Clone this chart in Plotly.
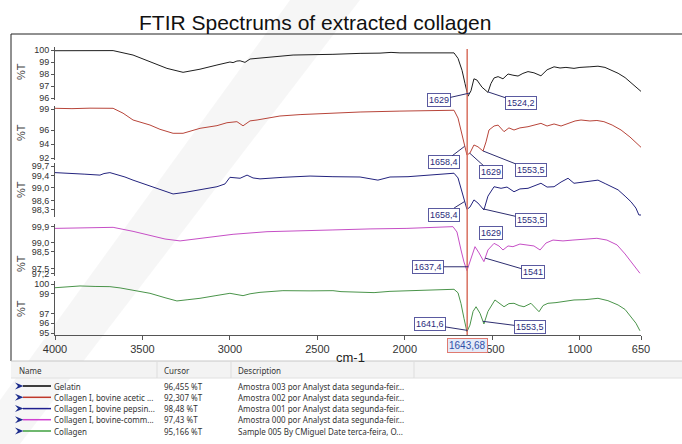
import numpy as np
import plotly.graph_objects as go

W, H = 682, 444

TITLE = "FTIR Spectrums of extracted collagen"
X_TICKS = [4000, 3500, 3000, 2500, 2000, 1500, 1000, 650]
X_TICK_LABELS = ["4000", "3500", "3000", "2500", "2000", "1500", "1000", "650"]
X_LABEL = "cm-1"
Y_LABEL = "%T"
CURSOR_WN = 1643.68
CURSOR_TEXT = "1643,68"

SERIES_NAMES = ["Gelatin", "Collagen I, bovine acetic ...", "Collagen I, bovine pepsin...",
                "Collagen I, bovine-comm...", "Collagen"]
CURSOR_VALUES = ["96,455 %T", "92,307 %T", "98,48 %T", "97,43 %T", "95,166 %T"]
DESCRIPTIONS = ["Amostra 003 por Analyst data segunda-feir...",
                "Amostra 002 por Analyst data segunda-feir...",
                "Amostra 001 por Analyst data segunda-feir...",
                "Amostra 000 por Analyst data segunda-feir...",
                "Sample 005 By CMiguel Date terca-feira, O..."]
TABLE_HEADERS = ["Name", "Cursor", "Description"]

# ---- spectra (wavenumber cm-1, %T) ----
gel_wn = [4000, 3903, 3800, 3720, 3668, 3554, 3457, 3360, 3268, 3171, 3074, 3000, 2982, 2960, 2942,
          2914, 2885, 2788, 2639, 2411, 2365, 2256, 2142, 2079, 2028, 1913, 1799, 1742, 1719, 1696,
          1673, 1656, 1639, 1622, 1605, 1588, 1559, 1525, 1508, 1490, 1467, 1439, 1410, 1382, 1353,
          1325, 1296, 1262, 1222, 1187, 1147, 1113, 1079, 1033, 999, 942, 896, 856, 781, 741, 707, 650]
gel_t = [99.94, 99.96, 99.92, 99.97, 99.95, 99.58, 99.03, 98.47, 98.14, 98.4, 98.75, 99.0, 98.95, 99.08, 99.1,
         98.97, 99.25, 99.4, 99.58, 99.64, 99.68, 99.72, 99.74, 99.8, 99.76, 99.78, 99.75, 99.78, 99.76, 99.3,
         98.3, 97.2, 96.15, 96.6, 97.6, 97.5, 96.9, 96.47, 97.2, 97.67, 97.78, 97.6, 98.0, 97.9, 97.83,
         98.05, 98.2, 98.1, 97.85, 98.35, 98.6, 98.5, 98.55, 98.47, 98.55, 98.6, 98.65, 98.55, 98.06, 97.7, 97.25, 96.55]

acet_wn = [4000, 3903, 3800, 3720, 3668, 3611, 3554, 3457, 3400, 3325, 3268, 3171, 3074, 3017, 2960,
           2925, 2885, 2845, 2714, 2599, 2411, 2256, 2028, 1856, 1742, 1719, 1696, 1673, 1656, 1645,
           1628, 1605, 1582, 1553, 1536, 1519, 1490, 1467, 1433, 1405, 1376, 1342, 1296, 1262, 1222,
           1187, 1147, 1107, 1067, 1027, 993, 942, 902, 862, 815, 764, 713, 650]
acet_t = [99.1, 99.05, 99.12, 99.08, 99.1, 98.4, 97.43, 96.71, 96.1, 95.53, 95.53, 96.24, 96.62, 97.04, 97.19,
          96.6, 97.3, 97.43, 98.0, 98.2, 98.43, 98.57, 98.7, 98.79, 98.86, 98.82, 97.7, 95.3, 93.4, 92.43,
          92.7, 93.86, 93.6, 93.0, 94.3, 96.0, 96.57, 96.7, 95.76, 96.3, 96.0, 96.3, 96.47, 96.7, 96.95,
          96.57, 96.86, 96.57, 96.95, 97.29, 97.43, 97.29, 97.36, 97.19, 96.71, 96.0, 95.0, 93.53]

peps_wn = [4000, 3903, 3829, 3743, 3720, 3686, 3668, 3646, 3600, 3554, 3457, 3371, 3325, 3257, 3171,
           3074, 3028, 3000, 2942, 2902, 2868, 2828, 2697, 2542, 2411, 2256, 2154, 2085, 1982, 1856,
           1719, 1696, 1673, 1656, 1645, 1628, 1605, 1582, 1548, 1525, 1490, 1450, 1416, 1376, 1342,
           1296, 1262, 1222, 1187, 1147, 1107, 1067, 1033, 987, 942, 896, 851, 816, 781, 741, 707,
           679, 662, 650]
peps_t = [99.49, 99.47, 99.44, 99.41, 99.46, 99.49, 99.46, 99.44, 99.35, 99.25, 99.06, 98.9, 98.81, 98.86, 98.94,
          99.04, 99.13, 99.34, 99.31, 99.41, 99.32, 99.29, 99.34, 99.38, 99.36, 99.35, 99.25, 99.35, 99.36, 99.41,
          99.47, 99.32, 98.87, 98.52, 98.32, 98.39, 98.62, 98.52, 98.3, 98.74, 99.04, 98.99, 99.03, 98.88, 98.97,
          98.99, 99.06, 99.15, 99.03, 99.04, 99.19, 99.31, 99.15, 99.19, 99.22, 99.25, 99.13, 99.03, 98.94, 98.74, 98.56,
          98.36, 98.14, 98.14]

comm_wn = [4000, 3857, 3668, 3554, 3457, 3371, 3285, 3171, 2982, 2788, 2599, 2411, 2199, 1988, 1725,
           1702, 1679, 1662, 1645, 1628, 1599, 1576, 1548, 1525, 1490, 1462, 1439, 1410, 1382, 1342,
           1302, 1262, 1227, 1193, 1153, 1096, 1039, 970, 902, 845, 787, 741, 696, 656]
comm_t = [99.82, 99.85, 99.88, 99.65, 99.44, 99.21, 99.1, 99.25, 99.48, 99.63, 99.7, 99.73, 99.79, 99.82, 99.92,
          99.61, 98.58, 97.89, 97.39, 97.89, 98.77, 98.41, 97.91, 98.58, 98.96, 98.81, 98.58, 98.81, 98.77, 98.92,
          98.87, 98.81, 98.58, 98.98, 99.15, 99.1, 99.15, 99.21, 99.25, 99.15, 98.87, 98.35, 97.77, 97.24]

coll_wn = [4000, 3943, 3857, 3771, 3686, 3628, 3554, 3457, 3371, 3303, 3240, 3171, 3085, 3000, 2925,
           2885, 2828, 2697, 2542, 2411, 2365, 2256, 2176, 2085, 1982, 1856, 1719, 1696, 1679, 1662,
           1645, 1628, 1610, 1593, 1570, 1548, 1525, 1485, 1462, 1433, 1405, 1376, 1347, 1319, 1279,
           1256, 1233, 1210, 1182, 1136, 1085, 1033, 970, 896, 839, 781, 741, 707, 679, 656]
coll_t = [99.62, 99.7, 99.8, 99.75, 99.73, 99.6, 99.39, 99.05, 98.6, 98.27, 98.4, 98.54, 98.8, 99.05, 98.81,
          99.0, 99.15, 99.32, 99.3, 99.32, 99.22, 99.2, 99.12, 99.25, 99.32, 99.4, 99.46, 99.1, 98.0, 96.5,
          95.13, 95.8, 97.2, 97.68, 97.0, 95.92, 97.2, 98.37, 98.1, 97.68, 98.0, 98.03, 97.8, 97.68, 98.03,
          97.6, 97.17, 97.8, 98.03, 98.1, 98.2, 98.37, 98.4, 98.54, 98.3, 97.86, 97.4, 96.66, 96.0, 95.23]

# y-axis ticks per panel
gel_ticks = [100, 99, 98, 97, 96]
gel_tick_labels = ["100", "99", "98", "97", "96"]
acet_ticks = [99, 96, 94, 92]
acet_tick_labels = ["99", "96", "94", "92"]
peps_ticks = [99.7, 99.4, 99.0, 98.6, 98.3]
peps_tick_labels = ["99,7", "99,4", "99,0", "98,6", "98,3"]
comm_ticks = [99.9, 99.0, 98.5, 97.5, 97.2]
comm_tick_labels = ["99,9", "99,0", "98,5", "97,5", "97,2"]
coll_ticks = [100, 99, 97, 96, 95]
coll_tick_labels = ["100", "99", "97", "96", "95"]

# labelled peaks per panel
gel_peaks = [1629, 1524.2]
acet_peaks = [1658.4, 1629, 1553.5]
peps_peaks = [1658.4, 1629, 1553.5]
comm_peaks = [1637.4, 1541]
coll_peaks = [1641.6, 1553.5]

# ---- styling ----
COLORS = ["#1e1e1e", "#b8453a", "#23237e", "#c64fc6", "#4a944a"]
LEGEND_COLORS = ["#000000", "#c0392b", "#1f1f8f", "#d040d0", "#3fa03f"]
PANEL_PX = [(47, 100), (106, 160), (163, 217), (224, 276), (281, 335)]
PANEL_RANGE = [(95.833, 100.25), (91.714, 99.429), (98.076, 99.796), (97.084, 100.072), (94.796, 100.306)]
YLABEL_PX = [72, 133, 190, 264, 309]
PEAK_OFFSETS = [[(-31, 7), (33, 11)],
                [(-21, 16), (21, 19), (48, 19)],
                [(-21, 13), (21, 26), (48, 11)],
                [(-40, 0), (48, 14)],
                [(-38, -6), (47, 6)]]
PLOT_LEFT, PLOT_RIGHT = 55, 641
TICK_FONT = "Liberation Sans, Arial, sans-serif"
TEXT_FONT = "Noto Sans, Segoe UI, DejaVu Sans, sans-serif"


def px(x):
    return x / W


def py(y):
    return 1 - y / H


wns = [gel_wn, acet_wn, peps_wn, comm_wn, coll_wn]
ts = [gel_t, acet_t, peps_t, comm_t, coll_t]
ticks = [gel_ticks, acet_ticks, peps_ticks, comm_ticks, coll_ticks]
tick_labels = [gel_tick_labels, acet_tick_labels, peps_tick_labels, comm_tick_labels, coll_tick_labels]
peaks = [gel_peaks, acet_peaks, peps_peaks, comm_peaks, coll_peaks]

fig = go.Figure()
layout = dict(
    width=W, height=H, margin=dict(l=0, r=0, t=0, b=0, pad=0, autoexpand=False),
    paper_bgcolor="white", plot_bgcolor="rgba(0,0,0,0)", showlegend=False,
    xaxis=dict(domain=[px(PLOT_LEFT), px(PLOT_RIGHT)], range=[4000, 650], anchor="y5",
               tickvals=X_TICKS, ticktext=X_TICK_LABELS, ticks="outside", ticklen=4,
               tickcolor="#555", showline=True, linecolor="#555", linewidth=1,
               showgrid=False, zeroline=False, automargin=False,
               tickfont=dict(family=TICK_FONT, size=11, color="#333")),
)

annotations = []
shapes = []

# faint watermark band (background artefact)
shapes.append(dict(type="path", xref="paper", yref="paper", layer="below",
                   path=f"M {px(290)} {py(0)} L {px(360)} {py(0)} L {px(20)} {py(444)} L {px(0)} {py(444)} L {px(0)} {py(400)} Z",
                   fillcolor="rgba(0,0,0,0.035)", line=dict(width=0)))

for i in range(5):
    yname = "y" if i == 0 else f"y{i+1}"
    lname = "yaxis" if i == 0 else f"yaxis{i+1}"
    top, bot = PANEL_PX[i]
    layout[lname] = dict(domain=[py(bot), py(top)], range=list(PANEL_RANGE[i]), anchor="x",
                         tickvals=ticks[i], ticktext=tick_labels[i], ticks="outside", ticklen=3,
                         tickcolor="#555", showline=True, linecolor="#555", linewidth=1,
                         showgrid=False, zeroline=False, automargin=False,
                         tickfont=dict(family=TICK_FONT, size=9, color="#333"))
    fig.add_trace(go.Scatter(x=wns[i], y=ts[i], mode="lines", xaxis="x", yaxis=yname,
                             line=dict(color=COLORS[i], width=1), hoverinfo="skip"))
    annotations.append(dict(text=Y_LABEL, x=px(21), y=py(YLABEL_PX[i]), xref="paper", yref="paper",
                            xanchor="center", yanchor="middle", showarrow=False, textangle=-90,
                            font=dict(family="Liberation Sans, Arial, sans-serif", size=11, color="#444")))
    wn_asc = np.array(wns[i])[::-1]
    t_asc = np.array(ts[i])[::-1]
    for j, pk in enumerate(peaks[i]):
        yv = float(np.interp(pk, wn_asc, t_asc))
        ax, ay = PEAK_OFFSETS[i][j]
        annotations.append(dict(text=f"{pk:g}".replace(".", ","), x=pk, y=yv, xref="x", yref=yname,
                                ax=ax, ay=ay, showarrow=True, arrowhead=0, arrowwidth=1,
                                arrowcolor="#2e2e70", standoff=0,
                                bordercolor="#5a5aa0", borderwidth=1, borderpad=1, bgcolor="white",
                                font=dict(family=TICK_FONT, size=9, color="#2b2b7b")))

# cursor line and its label
shapes.append(dict(type="line", xref="x", yref="paper", x0=CURSOR_WN, x1=CURSOR_WN,
                   y0=py(335), y1=py(49), line=dict(color="#d8705f", width=1.5)))
annotations.append(dict(text=CURSOR_TEXT, x=CURSOR_WN, y=py(345), xref="x", yref="paper",
                        xanchor="center", yanchor="middle",
                        showarrow=False, bordercolor="#e07a70", borderwidth=1, borderpad=1,
                        bgcolor="#e4eaf8", font=dict(family=TICK_FONT, size=10, color="#3050a8")))
annotations.append(dict(text=X_LABEL, x=px(350), y=py(357), xref="paper", yref="paper", showarrow=False,
                        xanchor="center", yanchor="middle",
                        font=dict(family="Liberation Sans, Arial, sans-serif", size=13, color="#222")))

# title and frame
annotations.append(dict(text=TITLE, x=px(315), y=py(22), xref="paper", yref="paper", showarrow=False,
                        xanchor="center", yanchor="middle",
                        font=dict(family="Liberation Sans, Arial, sans-serif", size=21, color="#111")))
shapes.append(dict(type="line", xref="paper", yref="paper", x0=px(11), x1=1, y0=py(34), y1=py(34),
                   line=dict(color="#222", width=1)))
shapes.append(dict(type="line", xref="paper", yref="paper", x0=px(11), x1=px(11), y0=py(34), y1=py(361),
                   line=dict(color="#222", width=1)))

# table below
shapes.append(dict(type="rect", xref="paper", yref="paper", x0=px(11), x1=1, y0=py(378), y1=py(361),
                   fillcolor="#f3f3f3", line=dict(width=0)))
shapes.append(dict(type="line", xref="paper", yref="paper", x0=px(11), x1=1, y0=py(361), y1=py(361),
                   line=dict(color="#c8c8c8", width=1)))
shapes.append(dict(type="line", xref="paper", yref="paper", x0=px(11), x1=1, y0=py(378), y1=py(378),
                   line=dict(color="#e0e0e0", width=1)))
for sx in [157, 231, 414]:
    shapes.append(dict(type="line", xref="paper", yref="paper", x0=px(sx), x1=px(sx), y0=py(378), y1=py(362),
                       line=dict(color="#dddddd", width=1)))
for hx, htxt in zip([17, 162, 236], TABLE_HEADERS):
    annotations.append(dict(text=htxt, x=px(hx), y=py(370), xref="paper", yref="paper", showarrow=False,
                            xanchor="left", yanchor="middle", font=dict(family=TEXT_FONT, size=8, color="#333")))
ROW_Y = [386, 397.3, 408.6, 419.7, 431]
for i in range(5):
    ry = ROW_Y[i]
    shapes.append(dict(type="path", xref="paper", yref="paper",
                       path=f"M {px(15)} {py(ry-3.5)} L {px(23.5)} {py(ry)} L {px(15)} {py(ry+3.5)} L {px(18)} {py(ry)} Z",
                       fillcolor="#1c2c8c", line=dict(width=0)))
    shapes.append(dict(type="line", xref="paper", yref="paper", x0=px(23), x1=px(51), y0=py(ry), y1=py(ry),
                       line=dict(color=LEGEND_COLORS[i], width=1.5)))
    for cx, ctxt in zip([52, 162, 236], [SERIES_NAMES[i], CURSOR_VALUES[i], DESCRIPTIONS[i]]):
        annotations.append(dict(text=ctxt, x=px(cx), y=py(ry), xref="paper", yref="paper", showarrow=False,
                                xanchor="left", yanchor="middle", font=dict(family=TEXT_FONT, size=8, color="#333")))

layout["annotations"] = annotations
layout["shapes"] = shapes
fig.update_layout(**layout)
fig.write_html("out.html", config={"displayModeBar": False, "responsive": False},
               post_script="document.body.style.margin='0';document.body.style.overflow='hidden';")
